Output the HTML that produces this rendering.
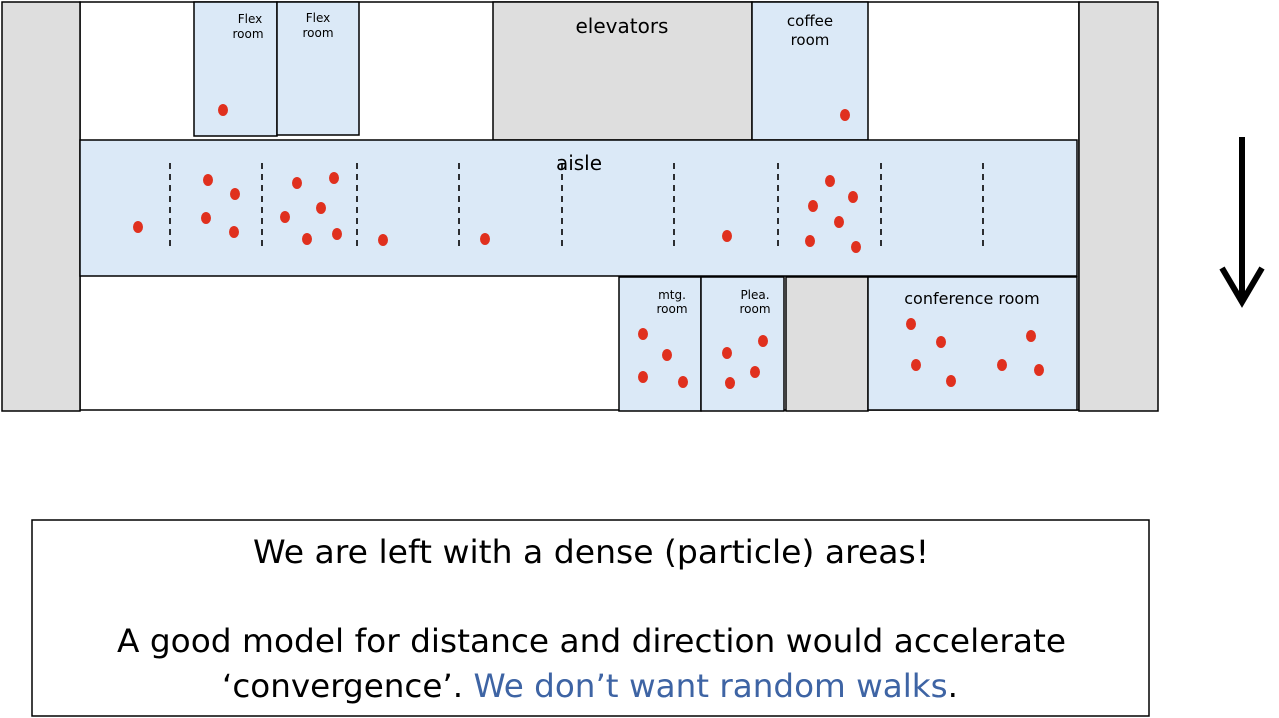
<!DOCTYPE html>
<html><head><meta charset="utf-8">
<style>
html,body{margin:0;padding:0;background:#fff;}
svg{display:block;font-family:"DejaVu Sans","Liberation Sans",sans-serif;}
</style></head>
<body>
<svg id="plan" width="1279" height="718" viewBox="0 0 1279 718">
  <rect x="80" y="2" width="999" height="408" fill="#fff" stroke="#000" stroke-width="1.5"/>
  <rect x="2" y="2" width="78" height="409" fill="#dedede" stroke="#000" stroke-width="1.5"/>
  <rect x="1079" y="2" width="79" height="409" fill="#dedede" stroke="#000" stroke-width="1.5"/>
  <rect x="194" y="2" width="83" height="134" fill="#dbe9f7" stroke="#000" stroke-width="1.5"/>
  <rect x="277" y="2" width="82" height="133" fill="#dbe9f7" stroke="#000" stroke-width="1.5"/>
  <rect x="493" y="2" width="259" height="138" fill="#dedede" stroke="#000" stroke-width="1.5"/>
  <rect x="752" y="2" width="116" height="138" fill="#dbe9f7" stroke="#000" stroke-width="1.5"/>
  <rect x="80" y="140" width="997" height="136" fill="#dbe9f7" stroke="#000" stroke-width="1.5"/>
  <rect x="619" y="277" width="82" height="134" fill="#dbe9f7" stroke="#000" stroke-width="1.5"/>
  <rect x="701" y="277" width="83" height="134" fill="#dbe9f7" stroke="#000" stroke-width="1.5"/>
  <rect x="786" y="277" width="82" height="134" fill="#dedede" stroke="#000" stroke-width="1.5"/>
  <rect x="868" y="277" width="209" height="133" fill="#dbe9f7" stroke="#000" stroke-width="1.5"/>

  <g font-size="12" text-anchor="middle" fill="#000">
    <text x="250" y="23">Flex</text>
    <text x="248" y="38">room</text>
    <text x="318" y="22">Flex</text>
    <text x="318" y="37">room</text>
    <text x="672" y="299">mtg.</text>
    <text x="672" y="313">room</text>
    <text x="755" y="299">Plea.</text>
    <text x="755" y="313">room</text>
  </g>
  <text x="622" y="33" font-size="20" text-anchor="middle">elevators</text>
  <text x="810" y="26" font-size="15" text-anchor="middle">coffee</text>
  <text x="810" y="45" font-size="15" text-anchor="middle">room</text>
  <text x="579" y="170" font-size="20" text-anchor="middle">aisle</text>
  <text x="972" y="304" font-size="16" text-anchor="middle">conference room</text>

  <g id="dividers"></g>
  <g id="dots"></g>

  <g>
    <line x1="1242" y1="137" x2="1242" y2="300" stroke="#000" stroke-width="6"/>
    <polyline points="1222,268 1242,302 1262,268" fill="none" stroke="#000" stroke-width="6" stroke-linejoin="miter"/>
  </g>

  <rect x="32" y="520" width="1117" height="196" fill="#fff" stroke="#000" stroke-width="1.5"/>
  <g font-family="'DejaVu Sans','Liberation Sans',sans-serif" font-size="32" text-anchor="start" fill="#000">
    <text x="253" y="563" textLength="676" lengthAdjust="spacingAndGlyphs">We are left with a dense (particle) areas!</text>
    <text x="117" y="652" textLength="949" lengthAdjust="spacingAndGlyphs">A good model for distance and direction would accelerate</text>
    <text x="222" y="697" textLength="736" lengthAdjust="spacingAndGlyphs">‘convergence’. <tspan fill="#3e64a4">We don’t want random walks</tspan>.</text>
  </g>
</svg>
<script>
const dividerX = [170, 262, 357, 459, 562, 674, 778, 881, 983];
const dotX = [223,845,138,208,235,206,234,297,334,321,285,307,337,383,485,727,830,853,813,839,810,856,643,667,643,683,763,727,755,730,911,941,1031,916,951,1002,1039];
const dotY = [110,115,227,180,194,218,232,183,178,208,217,239,234,240,239,236,181,197,206,222,241,247,334,355,377,382,341,353,372,383,324,342,336,365,381,365,370];
const NS = 'http://www.w3.org/2000/svg';
const dg = document.getElementById('dividers');
dividerX.forEach(function(x){
  const l = document.createElementNS(NS,'line');
  l.setAttribute('x1',x); l.setAttribute('x2',x);
  l.setAttribute('y1',163); l.setAttribute('y2',248);
  l.setAttribute('stroke','#000'); l.setAttribute('stroke-width','1.6');
  l.setAttribute('stroke-dasharray','6,5');
  
  
  dg.appendChild(l);
});
const pg = document.getElementById('dots');
dotX.forEach(function(x,i){
  const e = document.createElementNS(NS,'ellipse');
  e.setAttribute('cx',x); e.setAttribute('cy',dotY[i]);
  e.setAttribute('rx',5); e.setAttribute('ry',6);
  e.setAttribute('fill','#e0301e');
  
  
  pg.appendChild(e);
});
</script>
</body></html>
